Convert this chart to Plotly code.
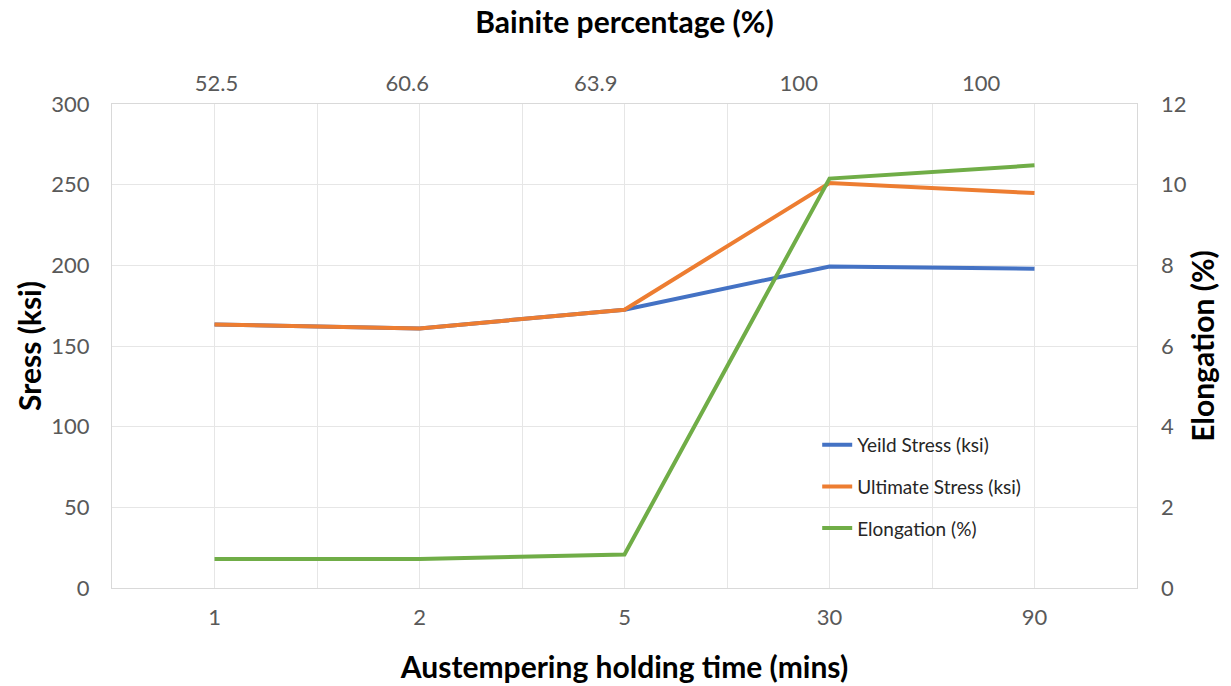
import plotly.graph_objects as go

# Data
holding_time = ["1", "2", "5", "30", "90"]
bainite_pct = ["52.5", "60.6", "63.9", "100", "100"]
yield_stress = [163.3, 160.9, 172.5, 199.3, 197.9]
ultimate_stress = [163.3, 160.9, 172.5, 251.0, 244.8]
elongation = [0.72, 0.72, 0.83, 10.15, 10.48]

# top axis tick placement (in category index units)
bainite_pos = [0.01, 0.94, 1.86, 2.85, 3.74]

x_idx = list(range(len(holding_time)))

FONT = "Lato"
TICK_COLOR = "#595959"
GRID = "#e6e6e6"
TITLE_FONT = dict(size=30, color="black", family=FONT)

fig = go.Figure()
fig.add_trace(go.Scatter(x=x_idx, y=yield_stress, mode="lines", name="Yeild Stress (ksi)",
                         line=dict(color="#4472C4", width=4), legendgroup="a"))
fig.add_trace(go.Scatter(x=x_idx, y=ultimate_stress, mode="lines", name="Ultimate Stress (ksi)",
                         line=dict(color="#ED7D31", width=4), legendgroup="b"))
fig.add_trace(go.Scatter(x=x_idx, y=elongation, mode="lines", name="Elongation (%)",
                         line=dict(color="#70AD47", width=4), yaxis="y2", legendgroup="c"))
# invisible trace to activate top axis
fig.add_trace(go.Scatter(x=bainite_pos, y=[None]*5, xaxis="x2", showlegend=False, hoverinfo="skip"))

fig.update_layout(
    width=1231, height=686,
    paper_bgcolor="white", plot_bgcolor="white",
    margin=dict(l=112, r=94, t=104, b=98),
    font=dict(family=FONT, color=TICK_COLOR, size=22),
    xaxis=dict(
        range=[-0.5, 4.5], tickvals=x_idx, ticktext=holding_time,
        showgrid=True, gridcolor=GRID, gridwidth=1,
        minor=dict(dtick=0.5, tick0=-0.5, showgrid=True, gridcolor=GRID, gridwidth=1),
        showline=True, linecolor="#d9d9d9", linewidth=1, mirror=True,
        ticks="", ticklabelstandoff=10, zeroline=False, automargin=False,
        title=dict(text="<b>Austempering holding time (mins)</b>", font=TITLE_FONT, standoff=27),
    ),
    xaxis2=dict(
        overlaying="x", side="top", range=[-0.5, 4.5],
        tickvals=bainite_pos, ticktext=bainite_pct,
        showgrid=False, ticks="", ticklabelstandoff=8, zeroline=False, automargin=False,
        title=dict(text="<b>Bainite percentage (%)</b>", font=TITLE_FONT, standoff=26),
    ),
    yaxis=dict(
        range=[0, 300], dtick=50, showgrid=True, gridcolor=GRID, gridwidth=1,
        showline=True, linecolor="#d9d9d9", linewidth=1, mirror=True, zeroline=False,
        ticks="", ticklabelstandoff=17, automargin=False,
        title=dict(text="<b>Sress (ksi)</b>", font=TITLE_FONT, standoff=0),
    ),
    yaxis2=dict(
        overlaying="y", side="right", range=[0, 12], dtick=2, showgrid=False, zeroline=False,
        ticks="", ticklabelstandoff=23, automargin=False,
        title=dict(text="<b>Elongation (%)</b>", font=TITLE_FONT, standoff=7),
    ),
    legend=dict(
        x=0.688, y=0.335, xanchor="left", yanchor="top",
        bgcolor="rgba(0,0,0,0)", font=dict(size=19, color="#262626", family=FONT),
        traceorder="grouped", tracegroupgap=14,
    ),
    showlegend=True,
)

fig.write_html("out.html", config={"displayModeBar": False},
               post_script="document.body.style.margin='0';")
